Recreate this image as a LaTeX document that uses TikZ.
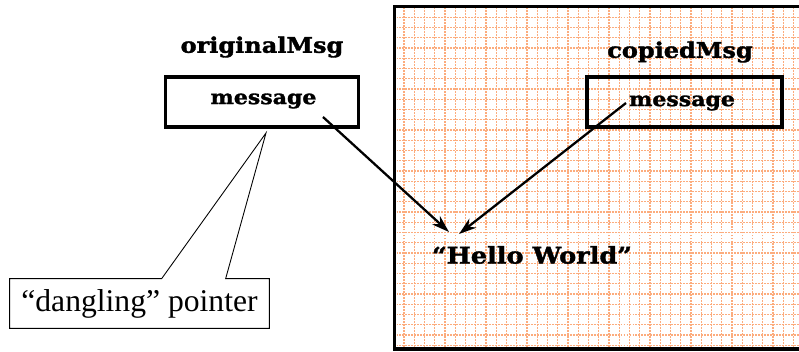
\documentclass[tikz,border=0pt]{standalone}
\usepackage{fontspec}
\setmainfont{Liberation Serif}
\newfontfamily\slabfont[FakeStretch=1.12,FakeBold=1.6]{DejaVu Serif Bold}
\usepackage{tikz}
\usetikzlibrary{arrows.meta,positioning}
\definecolor{gridorange}{RGB}{252,172,125}

\begin{document}
\begin{tikzpicture}

\tikzset{msgbox/.style={draw, line width=1.8pt, minimum width=3.86cm, minimum height=1.0cm, inner sep=0pt},
         slab/.style={font=\slabfont\fontsize{11.2pt}{13pt}\selectfont},
         ptrarrow/.style={-{Stealth[length=10pt,width=6.5pt]}, line width=1.3pt},
         gridline/.style={gridorange, dash pattern=on 1.1pt off 0.6pt, line width=0.7pt}}

    \useasboundingbox (0,0) rectangle (15.98,7.04);

    % Grid values
    \def\gridStep{0.205} % Distance between grid lines
    \def\frameLeft{7.89}

    % Copied object: grid paper with a thick frame
    \fill[white] (\frameLeft,0.06) rectangle (16.1,6.91);
    \foreach \i in {0,...,38}
        \draw[gridline] (8.08+\gridStep*\i,0.1) -- (8.08+\gridStep*\i,6.88);
    \foreach \j in {0,...,32}
        \draw[gridline] (7.93,6.694-\gridStep*\j) -- (16,6.694-\gridStep*\j);
    \draw[line width=2pt] (\frameLeft,0.06) rectangle (16.1,6.91);

    % Original object
    \node[slab, font=\slabfont\fontsize{12.2pt}{14pt}\selectfont] (origname) at (5.24,6.1) {originalMsg};
    \node[msgbox] (origbox) at (5.24,5.0) {};
    \node[slab] (origmsg) at (5.27,5.02) {message};

    % Copied object
    \node[slab, font=\slabfont\fontsize{12.2pt}{14pt}\selectfont] (copyname) at (13.6,6.0) {copiedMsg};
    \node[msgbox, minimum width=3.9cm] (copybox) at (13.69,5.0) {};
    \node[slab] (copymsg) at (13.64,4.98) {message};

    % Shared string
    \node[slab, font=\slabfont\fontsize{13pt}{15pt}\selectfont] (hello) at (10.64,1.94) {“Hello World”};
    \coordinate (hitA) at (8.98,2.4);
    \coordinate (hitB) at (9.18,2.36);
    \coordinate (fromA) at (6.46,4.7);
    \coordinate (fromB) at (12.52,4.98);
    \draw[ptrarrow] (fromA) -- (hitA);
    \draw[ptrarrow] (fromB) -- (hitB);

    % Callout
    \coordinate (dangle) at (5.32,4.38);
    \node[minimum width=5.18cm, minimum height=0.98cm, inner sep=0pt,
          font=\fontsize{18pt}{20pt}\selectfont] (dp) at (2.79,0.97) {“dangling” pointer};
    \draw[line width=0.5pt] (dp.north west) -- ([xshift=3.04cm]dp.north west) -- (dangle)
        -- ([xshift=4.32cm]dp.north west) -- (dp.north east) -- (dp.south east)
        -- (dp.south west) -- cycle;

\end{tikzpicture}
\end{document}
